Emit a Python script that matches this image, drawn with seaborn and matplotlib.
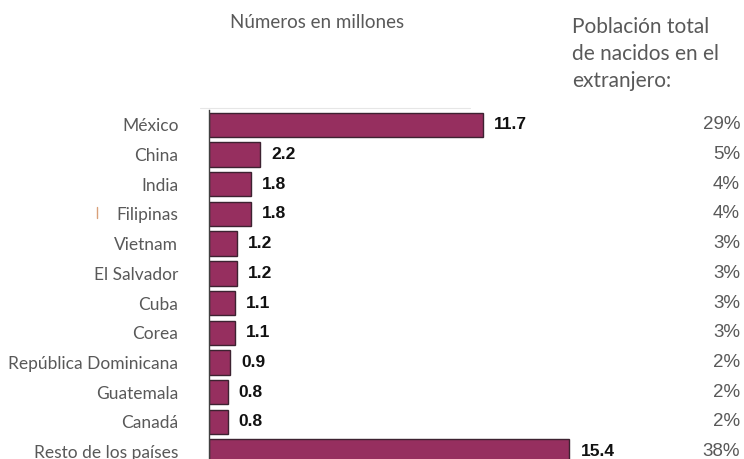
""" Inmigrantes por país de nacimiento (millones) con porcentaje del total. """

import pandas as pd
import matplotlib.pyplot as plt
import matplotlib.transforms as mtransforms
from matplotlib.lines import Line2D
import seaborn as sns

#############
# Arguments #
#############
DPI = 100
bar_color = '#962f5f'
edge_color = '#3d2231'
label_gray = '#595959'
label_font = ['Lato', 'DejaVu Sans']
number_font = ['Liberation Sans', 'DejaVu Sans']

########
# Data #
########
paises = ['México', 'China', 'India', 'Filipinas', 'Vietnam', 'El Salvador',
          'Cuba', 'Corea', 'República Dominicana', 'Guatemala', 'Canadá',
          'Resto de los países']
millones = [11.7, 2.2, 1.8, 1.8, 1.2, 1.2, 1.1, 1.1, 0.9, 0.8, 0.8, 15.4]
porcentaje = ['29%', '5%', '4%', '4%', '3%', '3%', '3%', '3%', '2%', '2%',
              '2%', '38%']

data = pd.DataFrame({'pais': paises, 'millones': millones})

########
# Plot #
########
sns.set_style('white')
plt.rcParams['font.family'] = label_font

fig = plt.figure(figsize=(7.44, 4.59), dpi=DPI)
ax = fig.add_axes([209 / 744, 0, 535 / 744, 349 / 459])

sns.barplot(data=data, x='millones', y='pais', order=paises, ax=ax,
            color=bar_color, edgecolor=edge_color, linewidth=1.0,
            width=0.82, saturation=1)

ax.set_xlim(0, 535 / 23.4)
ax.set_ylim(11.25, -0.5)
ax.set_xlabel('')
ax.set_ylabel('')
ax.set_xticks([])
sns.despine(ax=ax, top=True, right=True, bottom=True)
ax.spines['left'].set_color('#404040')
ax.spines['left'].set_linewidth(1.0)
ax.tick_params(axis='y', length=0, pad=22, labelsize=12.5,
               labelcolor=label_gray)

# value labels next to bars
for i, v in enumerate(millones):
    ax.annotate(f'{v:.1f}', xy=(v, i), xytext=(8, 0),
                textcoords='offset points', va='center', ha='left',
                fontsize=12.5, fontweight='bold', color='#111111',
                family=number_font)

# percentage column
trans = mtransforms.blended_transform_factory(fig.transFigure, ax.transData)
for i, p in enumerate(porcentaje):
    ax.text(740 / 744, i, p, transform=trans, ha='right', va='center',
            fontsize=13.5, color=label_gray, family=number_font, clip_on=False)

# headers
fig.text(230 / 744, 1 - 22 / 459, 'Números en millones', ha='left',
         va='center', fontsize=13.5, color=label_gray)
fig.text(572 / 744, 1 - 54 / 459,
         'Población total\nde nacidos en el\nextranjero:', ha='left',
         va='center', fontsize=15, color=label_gray, linespacing=1.45)

# faint rule above the plot and the stray mark near Filipinas
fig.add_artist(Line2D([200 / 744, 470 / 744], [1 - 108 / 459, 1 - 108 / 459],
                      color='#e6e6e6', linewidth=0.8))
fig.add_artist(Line2D([97 / 744, 97 / 744], [1 - 207 / 459, 1 - 218 / 459],
                      color='#d9a07a', linewidth=1.0))

plt.savefig('out.png', dpi=DPI)
plt.close()
